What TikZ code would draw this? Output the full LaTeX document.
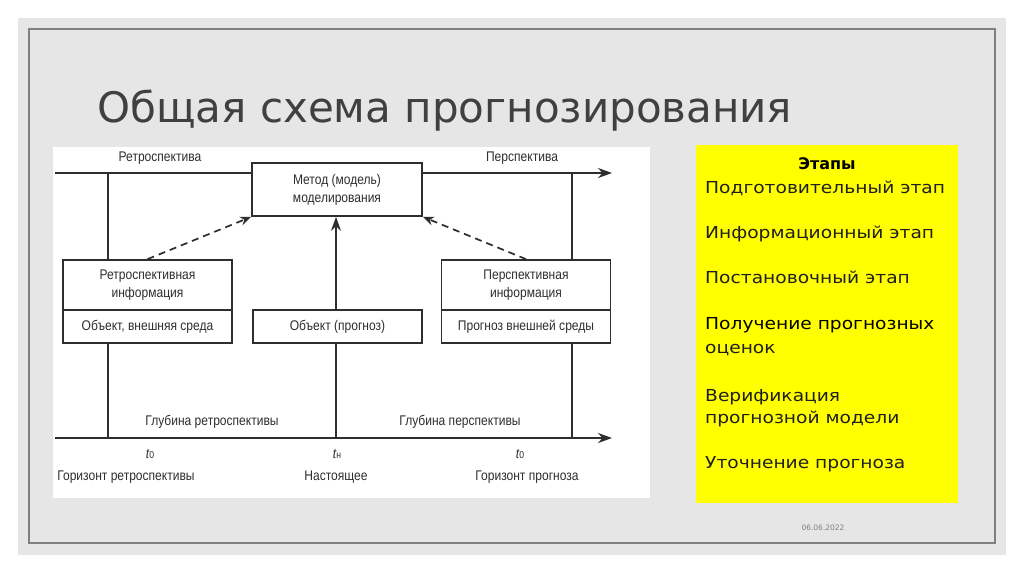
\documentclass[tikz,border=0pt]{standalone}
\usepackage{fontspec}
\setmainfont{DejaVu Sans}
\newfontfamily\diagfont{Liberation Sans}[FakeStretch=0.86]
\newfontfamily\slidefont{DejaVu Sans}
\newfontfamily\yelfont{DejaVu Sans}[FakeStretch=1.13]
\usetikzlibrary{arrows.meta}
\definecolor{slidegrey}{HTML}{E6E6E6}
\definecolor{framegrey}{HTML}{7F7F7F}
\definecolor{ink}{HTML}{2E2E2E}
\definecolor{titlecol}{HTML}{404040}
\definecolor{yel}{HTML}{FFFF00}
\tikzset{
  box/.style={draw=ink, line width=1.7pt, minimum width=169pt, inner sep=0pt, align=center, font=\diagfont\fontsize{14}{17}\selectfont, text=ink},
  lbl/.style={font=\diagfont\fontsize{14}{17}\selectfont, text=ink, inner sep=0pt},
  ln/.style={draw=ink, line width=1.7pt},
  arr/.style={ln, -{Stealth[length=14pt,width=10pt]}},
  darr/.style={ln, dash pattern=on 7pt off 5pt, -{Stealth[length=11pt,width=9pt]}},
  yl/.style={font=\yelfont\fontsize{16.5}{19}\selectfont, anchor=base west, inner sep=0pt, text=black!88},
}
\begin{document}
\begin{tikzpicture}[x=1pt,y=-1pt]
\useasboundingbox (0,0) rectangle (1024,574);
\fill[white] (0,0) rectangle (1024,574);
\fill[slidegrey] (18,18) rectangle (1006,555);
\draw[framegrey, line width=1.2pt] (29,29) rectangle (995,543);
% title
\node[anchor=base west, inner sep=0pt, text=titlecol, font=\slidefont\fontsize{42}{48}\selectfont] (title) at (97,122) {Общая схема прогнозирования};
% diagram area
\fill[white] (53,147) rectangle (650,498);
% boxes
\node[box, minimum width=170pt, minimum height=53pt] (meth) at (337,189.5) {Метод (модель)\\[1pt]моделирования};
\node[box, minimum height=50pt] (rtop) at (147.5,285) {Ретроспективная\\[1pt]информация};
\node[box, minimum height=33pt] (rbot) at (147.5,326.5) {Объект, внешняя среда};
\node[box, minimum height=50pt] (ptop) at (526,285) {Перспективная\\[1pt]информация};
\node[box, minimum height=33pt] (pbot) at (526,326.5) {Прогноз внешней среды};
\node[box, minimum height=33pt] (obj) at (337.5,326.5) {Объект (прогноз)};
% coordinates
\coordinate (tl) at (55,173);
\coordinate (tr) at (612,173);
\coordinate (bl) at (55,438);
\coordinate (br) at (612,438);
\coordinate (lt) at (108,173);
\coordinate (lb) at (108,438);
\coordinate (rt) at (572,173);
\coordinate (rb) at (572,438);
\coordinate (cb) at (336,438);
\coordinate (ct) at (336,216);
% top line
\draw[ln] (tl) -- (tl -| meth.west);
\draw[arr] (tr -| meth.east) -- (tr);
% bottom line
\draw[arr] (bl) -- (br);
% verticals
\draw[ln] (lt) -- (lt |- rtop.north);
\draw[ln] (lb |- rbot.south) -- (lb);
\draw[ln] (rt) -- (rt |- ptop.north);
\draw[ln] (rb |- pbot.south) -- (rb);
\draw[ln] (cb |- obj.south) -- (cb);
\draw[arr] (ct |- obj.north) -- (ct |- meth.south);
% dashed arrows
\draw[darr] (rtop.north) -- (meth.south west);
\draw[darr] (ptop.north) -- (meth.south east);
% labels
\node[lbl] (l1) at (160,158) {Ретроспектива};
\node[lbl] (l2) at (522,158) {Перспектива};
\node[lbl] (l3) at (212,422) {Глубина ретроспективы};
\node[lbl] (l4) at (460,422) {Глубина перспективы};
\node[lbl] (t1) at (150,454) {\itshape t\upshape\fontsize{10}{12}\selectfont 0};
\node[lbl] (t2) at (337,454) {\itshape t\upshape\fontsize{10}{12}\selectfont н};
\node[lbl] (t3) at (520,454) {\itshape t\upshape\fontsize{10}{12}\selectfont 0};
\node[lbl] (h1) at (126,477) {Горизонт ретроспективы};
\node[lbl] (h2) at (336,477) {Настоящее};
\node[lbl] (h3) at (527,477) {Горизонт прогноза};
% yellow panel
\fill[yel] (696,145) rectangle (958,503);
\node[font=\slidefont\bfseries\fontsize{16}{19}\selectfont, anchor=base, inner sep=0pt] (ph) at (827,169) {Этапы};
\node[yl] (s1) at (705,193) {Подготовительный\ этап};
\node[yl] (s2) at (705,238) {Информационный этап};
\node[yl] (s3) at (705,283) {Постановочный этап};
\node[yl, text=black] (s4) at (705,329) {Получение прогнозных};
\node[yl] (s4b) at (705,353) {оценок};
\node[yl] (s5) at (705,401) {Верификация};
\node[yl] (s5b) at (705,423) {прогнозной модели};
\node[yl] (s6) at (705,468) {Уточнение прогноза};
% date
\node[font=\slidefont\fontsize{7.5}{9}\selectfont, text=black!50, inner sep=0pt] (date) at (823,528) {06.06.2022};
\end{tikzpicture}
\end{document}
